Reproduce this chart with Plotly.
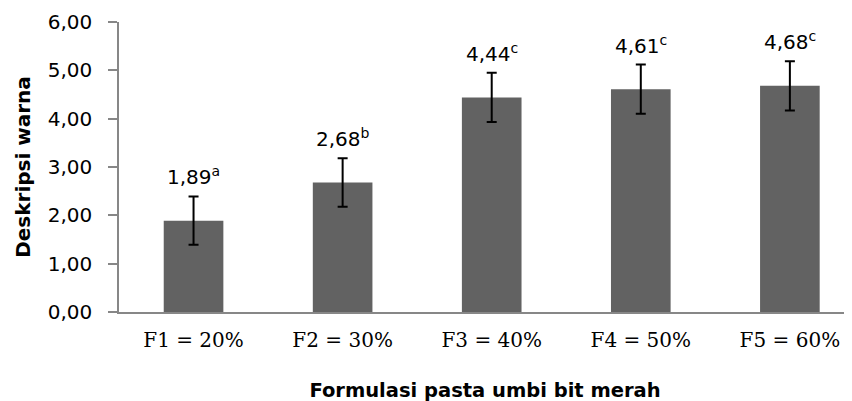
import plotly.graph_objects as go

categories = ["F1 = 20%", "F2 = 30%", "F3 = 40%", "F4 = 50%", "F5 = 60%"]
values = [1.89, 2.68, 4.44, 4.61, 4.68]
errors = [0.50, 0.50, 0.51, 0.51, 0.51]
letters = ["a", "b", "c", "c", "c"]
y_ticks = [0, 1, 2, 3, 4, 5, 6]

SANS = "DejaVu Sans"
SERIF = "DejaVu Serif"

fig = go.Figure()
fig.add_trace(go.Bar(
    x=categories,
    y=values,
    width=0.4,
    marker=dict(color="#626262", line=dict(width=0)),
    error_y=dict(type="data", array=errors, visible=True,
                 color="#000000", thickness=2, width=5),
    hoverinfo="skip",
))

for c, v, e, l in zip(categories, values, errors, letters):
    fig.add_annotation(
        x=c, y=v + e, xref="x", yref="y",
        text=f"{v:.2f}".replace(".", ",") + f"<sup>{l}</sup>",
        showarrow=False, yanchor="bottom", yshift=5,
        font=dict(family=SANS, size=20, color="#000000"),
    )

fig.update_layout(
    width=852, height=401,
    margin=dict(l=111, r=9, t=14, b=97),
    paper_bgcolor="white", plot_bgcolor="white",
    showlegend=False,
    separators=", ",
    bargap=0.6,
)

fig.update_xaxes(
    range=[-0.5, 4.41],
    automargin=False,
    showline=True, linecolor="#878787", linewidth=1.5,
    ticks="", showgrid=False, zeroline=False,
    tickfont=dict(family=SERIF, size=20, color="#000000"),
    ticklabelstandoff=9,
    title=dict(text="<b>Formulasi pasta umbi bit merah</b>",
               font=dict(family=SANS, size=19.5, color="#000000"),
               standoff=33),
)

fig.update_yaxes(
    range=[0, 6],
    automargin=False,
    tickvals=y_ticks, tickformat=".2f",
    showline=True, linecolor="#878787", linewidth=1.5,
    ticks="outside", ticklen=9, tickcolor="#878787", tickwidth=1.5,
    showgrid=False, zeroline=False,
    tickfont=dict(family=SANS, size=20, color="#000000"),
    ticklabelstandoff=12,
    title=dict(text="<b>Deskripsi warna</b>",
               font=dict(family=SANS, size=20, color="#000000"),
               standoff=12),
)

fig.write_html("out.html")
